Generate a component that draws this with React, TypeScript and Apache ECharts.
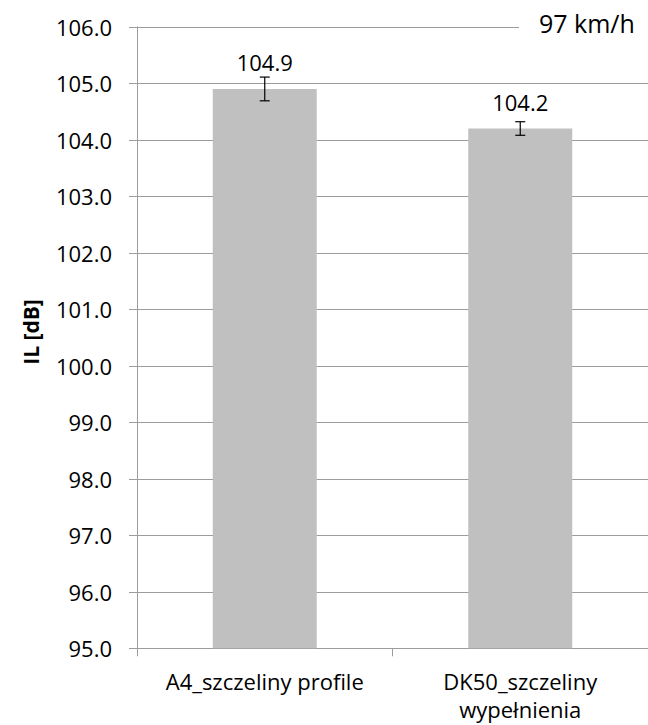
import React, { useEffect, useRef } from "react";
import * as echarts from "echarts";

// Insertion loss at 97 km/h for two road-surface variants
const categories = ["A4_szczeliny profile", "DK50_szczeliny\nwypełnienia"];
const ilValues = [104.9, 104.2];
const ilErrors = [0.21, 0.12];
const yTicks = { min: 95, max: 106, step: 1 };
const speedLabel = "97 km/h";
const yAxisTitle = "IL [dB]";

const FONT = "'Open Sans', 'Liberation Sans', sans-serif";
const GRID_COLOR = "#9c9c9c";

export default function App() {
  const ref = useRef<HTMLDivElement>(null);

  useEffect(() => {
    if (!ref.current) return;
    const chart = echarts.init(ref.current, undefined, { renderer: "svg" });

    const errorData = ilValues.map((v, i) => [i, v - ilErrors[i], v + ilErrors[i]]);

    chart.setOption({
      animation: false,
      backgroundColor: "#ffffff",
      textStyle: { fontFamily: FONT },
      grid: { left: 137, top: 26.8, width: 516, bottom: 76.7, containLabel: false },
      xAxis: {
        type: "category",
        data: categories,
        boundaryGap: true,
        axisLine: { show: true, lineStyle: { color: GRID_COLOR, width: 1 } },
        axisTick: { show: true, length: 8, alignWithLabel: false, lineStyle: { color: GRID_COLOR } },
        axisLabel: {
          color: "#000",
          fontSize: 22,
          fontFamily: FONT,
          lineHeight: 28,
          margin: 19,
          interval: 0,
        },
        splitLine: { show: false },
      },
      yAxis: {
        type: "value",
        min: yTicks.min,
        max: yTicks.max,
        interval: yTicks.step,
        axisLine: { show: true, lineStyle: { color: GRID_COLOR, width: 1 } },
        axisTick: { show: true, length: 8, inside: false, lineStyle: { color: GRID_COLOR } },
        axisLabel: {
          color: "#000",
          fontSize: 22,
          fontFamily: FONT,
          margin: 25,
          formatter: (v: number) => v.toFixed(1),
        },
        splitLine: { show: true, lineStyle: { color: GRID_COLOR, width: 1 } },
      },
      series: [
        {
          type: "bar",
          data: ilValues,
          barWidth: 104,
          itemStyle: { color: "#c0c0c0" },
          label: {
            show: true,
            position: "top",
            distance: 16,
            color: "#000",
            fontSize: 22,
            fontFamily: FONT,
            formatter: (p: any) => Number(p.value).toFixed(1),
          },
          z: 2,
        },
        {
          type: "custom",
          data: errorData,
          z: 5,
          renderItem: (params: any, api: any) => {
            const x = api.value(0);
            const lo = api.coord([x, api.value(1)]);
            const hi = api.coord([x, api.value(2)]);
            const cap = 5;
            const style = { stroke: "#000", lineWidth: 1.2 };
            return {
              type: "group",
              children: [
                { type: "line", shape: { x1: hi[0], y1: hi[1], x2: lo[0], y2: lo[1] }, style },
                { type: "line", shape: { x1: hi[0] - cap, y1: hi[1], x2: hi[0] + cap, y2: hi[1] }, style },
                { type: "line", shape: { x1: lo[0] - cap, y1: lo[1], x2: lo[0] + cap, y2: lo[1] }, style },
              ],
            };
          },
        },
      ],
      graphic: [
        {
          type: "rect",
          z: 100,
          zlevel: 1,
          shape: { x: 519, y: 6, width: 140, height: 34 },
          style: { fill: "#ffffff" },
        },
        {
          type: "text",
          z: 101,
          zlevel: 1,
          x: 539,
          y: 23,
          style: {
            text: speedLabel,
            fontSize: 25,
            fontFamily: FONT,
            fill: "#000",
            align: "left",
            verticalAlign: "middle",
          },
        },
        {
          type: "text",
          z: 100,
          x: 31,
          y: 332,
          rotation: Math.PI / 2,
          style: {
            text: yAxisTitle,
            fontSize: 21,
            fontWeight: "bold",
            fontFamily: FONT,
            fill: "#000",
            align: "center",
            verticalAlign: "middle",
          },
        },
      ],
    });

    return () => chart.dispose();
  }, []);

  return (
    <div
      ref={ref}
      style={{ position: "absolute", left: 0, top: 0, width: 648, height: 725, overflow: "hidden" }}
    />
  );
}
